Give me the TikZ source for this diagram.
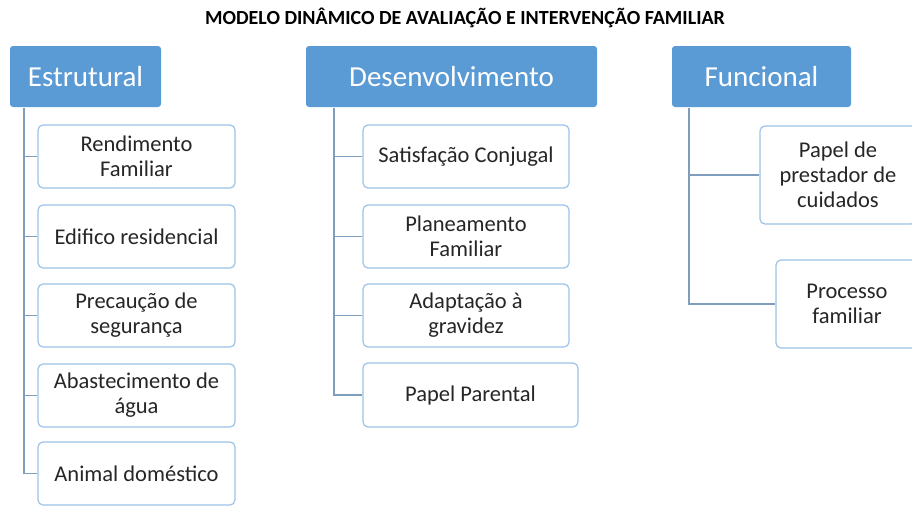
\documentclass[tikz,border=0pt]{standalone}
\usepackage{fontspec}
\setmainfont{Carlito}
\begin{document}
\begin{tikzpicture}[x=1pt,y=-1pt,
  hdr/.style={draw=none,fill=hdrblue,rounded corners=3pt,text=white,font=\fontsize{29}{33}\selectfont,inner sep=0pt},
  leaf/.style={draw=leafline,line width=1.2pt,fill=white,rounded corners=5pt,font=\fontsize{22.5}{25}\selectfont,align=center,inner sep=0pt,text=black!85},
  conn/.style={draw=connline,line width=1.4pt}]
\definecolor{hdrblue}{HTML}{5B9BD5}
\definecolor{leafline}{HTML}{9DC3E6}
\definecolor{connline}{HTML}{7F9DBD}
\useasboundingbox (0,0) rectangle (912,506);
\clip (0,0) rectangle (912,506);
\node[font=\bfseries\fontsize{20}{24}\selectfont] (title) at (465,18) {MODELO DINÂMICO DE AVALIAÇÃO E INTERVENÇÃO FAMILIAR};
% headers
\node[hdr,minimum width=151pt,minimum height=61pt] (est) at (85.5,76.5) {Estrutural};
\node[hdr,minimum width=291pt,minimum height=61pt] (des) at (451.5,76.5) {Desenvolvimento};
\node[hdr,minimum width=179pt,minimum height=61pt] (fun) at (761.5,76.5) {Funcional};
% Estrutural leaves
\node[leaf,minimum width=197pt,minimum height=63pt] (e1) at (136.5,156.5) {Rendimento\\Familiar};
\node[leaf,minimum width=197pt,minimum height=63pt] (e2) at (136.5,236.5) {Edifico residencial};
\node[leaf,minimum width=197pt,minimum height=63pt] (e3) at (136.5,315.5) {Precaução de\\segurança};
\node[leaf,minimum width=197pt,minimum height=63pt] (e4) at (136.5,395.5) {Abastecimento de\\água};
\node[leaf,minimum width=197pt,minimum height=63pt] (e5) at (136.5,473.5) {Animal doméstico};
% Desenvolvimento leaves
\node[leaf,minimum width=206pt,minimum height=63pt] (d1) at (466,156.5) {Satisfação Conjugal};
\node[leaf,minimum width=206pt,minimum height=63pt] (d2) at (466,236.5) {Planeamento\\Familiar};
\node[leaf,minimum width=206pt,minimum height=63pt] (d3) at (466,315.5) {Adaptação à\\gravidez};
\node[leaf,minimum width=215pt,minimum height=64pt] (d4) at (470.5,395) {Papel Parental};
% Funcional leaves
\node[leaf,minimum width=156pt,minimum height=98pt] (f1) at (838,175) {Papel de\\prestador de\\cuidados};
\node[leaf,minimum width=142pt,minimum height=88pt] (f2) at (847,304) {Processo\\familiar};
% connectors
\coordinate (et) at (24,107.5);
\draw[conn] (et) |- (e5.west);
\foreach \n in {e1,e2,e3,e4} \draw[conn] (et |- \n.west) -- (\n.west);
\coordinate (dt) at (334,107.5);
\draw[conn] (dt) |- (d4.west);
\foreach \n in {d1,d2,d3} \draw[conn] (dt |- \n.west) -- (\n.west);
\coordinate (ft) at (689,107.5);
\draw[conn] (ft) |- (f2.west);
\draw[conn] (ft |- f1.west) -- (f1.west);
\end{tikzpicture}
\end{document}
